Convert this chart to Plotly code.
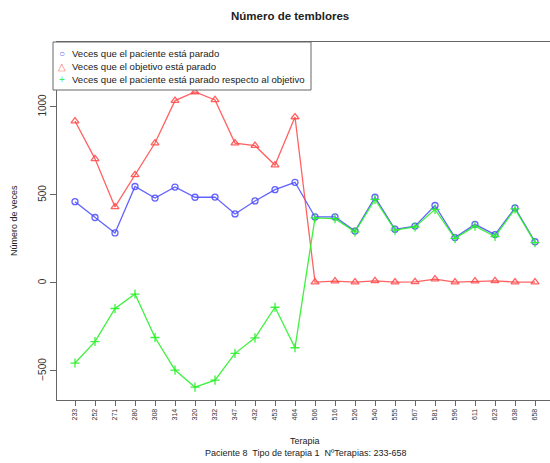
import plotly.graph_objects as go

# Sessions (therapy ids) on the x axis
terapias = ["233", "252", "271", "280", "308", "314", "320", "332", "347", "432", "453", "464",
            "506", "516", "526", "540", "555", "567", "581", "596", "611", "623", "638", "658"]

# Times the patient is stopped
paciente = [462, 372, 284, 548, 482, 545, 487, 488, 392, 466, 530, 572,
            375, 375, 295, 487, 305, 323, 440, 258, 333, 275, 426, 234]

# Times the target is stopped
objetivo = [920, 705, 432, 614, 795, 1036, 1085, 1040, 795, 780, 670, 943,
            5, 10, 5, 12, 5, 6, 22, 5, 10, 12, 5, 5]

# Times the patient is stopped relative to the target
respecto = [-455, -333, -145, -63, -310, -495, -592, -552, -400, -312, -138, -368,
            370, 365, 290, 475, 300, 318, 418, 253, 323, 264, 421, 229]

BLUE = "rgba(70,70,255,0.85)"
RED = "rgba(255,70,70,0.85)"
GREEN = "rgba(40,240,40,0.9)"
BOX = "#666666"

idx = list(range(len(terapias)))

fig = go.Figure()
fig.add_trace(go.Scatter(x=idx, y=paciente, mode="lines+markers",
                         line=dict(color=BLUE, width=1.3),
                         marker=dict(symbol="circle-open", size=6, color=BLUE, line=dict(width=1.3)),
                         showlegend=False))
fig.add_trace(go.Scatter(x=idx, y=objetivo, mode="lines+markers",
                         line=dict(color=RED, width=1.3),
                         marker=dict(symbol="triangle-up-open", size=7, color=RED, line=dict(width=1.3)),
                         showlegend=False))
fig.add_trace(go.Scatter(x=idx, y=respecto, mode="lines+markers",
                         line=dict(color=GREEN, width=1.3),
                         marker=dict(symbol="cross-thin-open", size=6.5, color=GREEN, line=dict(width=1.3)),
                         showlegend=False))

W, H = 550, 463
L, R, T, B = 57, 0, 42, 63
pw = W - L - R
ph = H - T - B

def px_x(p):
    return (p - L) / pw

def px_y(p):
    return 1 - (p - T) / ph

fig.update_layout(
    width=W, height=H,
    margin=dict(l=L, r=R, t=T, b=B),
    paper_bgcolor="white", plot_bgcolor="white",
    font=dict(family="Liberation Sans, Arial, sans-serif", color="#222222"),
    xaxis=dict(range=[-0.9, 23.75], tickmode="array", tickvals=idx, ticktext=terapias,
               tickangle=-90, tickfont=dict(size=7, color="#333333"),
               showgrid=False, zeroline=False, showline=True, linecolor=BOX, linewidth=1,
               mirror=True, ticks="outside", ticklen=5, tickcolor=BOX),
    yaxis=dict(range=[-665, 1369], tickmode="array", tickvals=[-500, 0, 500, 1000],
               tickangle=-90, tickfont=dict(size=10, color="#333333"),
               showgrid=False, zeroline=False, showline=True, linecolor=BOX, linewidth=1,
               ticks="outside", ticklen=6, tickcolor=BOX),
    showlegend=False,
)

def label(text, x, y, size, color="#222222", xanchor="center", angle=0):
    fig.add_annotation(text=text, xref="paper", yref="paper", x=px_x(x), y=px_y(y),
                       xanchor=xanchor, yanchor="middle", textangle=angle,
                       showarrow=False, font=dict(size=size, color=color))

# Title, axis titles and subtitle
label("<b>Número de temblores</b>", 290, 16, 11.5)
label("Número de veces", 14, 221, 9, angle=-90)
label("Terapia", 305, 441, 9)
label("Paciente 8  Tipo de terapia 1  NºTerapias: 233-658", 305, 453, 9)

# Legend box
fig.add_shape(type="rect", xref="paper", yref="paper",
              x0=px_x(53), x1=px_x(311), y0=px_y(90), y1=px_y(42),
              line=dict(color=BOX, width=1), fillcolor="white", layer="above")
legend_items = [
    ("○", BLUE, "Veces que el paciente está parado"),
    ("△", RED, "Veces que el objetivo está parado"),
    ("+", GREEN, "Veces que el paciente está parado respecto al objetivo"),
]
for i, (sym, col, txt) in enumerate(legend_items):
    yy = 53 + i * 13
    label(sym, 62, yy, 10, color=col)
    label(txt, 70, yy, 9.6, xanchor="left")

fig.write_html("out.html")
